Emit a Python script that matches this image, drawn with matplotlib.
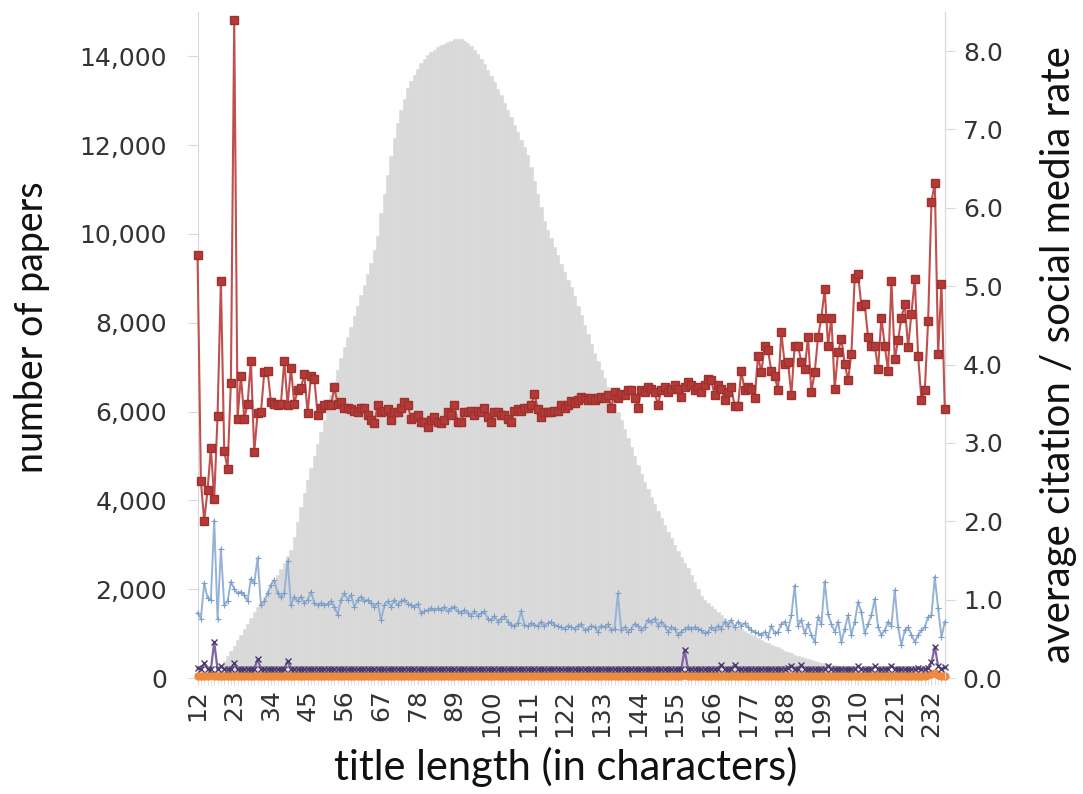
import matplotlib
matplotlib.use("Agg")
import matplotlib.pyplot as plt
from matplotlib.ticker import FuncFormatter, MultipleLocator
import numpy as np

plt.rcParams["font.family"] = ["DejaVu Sans"]

# title length categories 12..236
lengths = list(range(12, 237))

# number of papers per title length (left axis, grey bars)
papers = [
    10, 20, 40, 60, 100, 150, 200, 290, 380, 490,
    600, 720, 850, 970, 1100, 1220, 1350, 1480, 1600, 1700,
    1820, 1950, 2080, 2200, 2330, 2460, 2600, 2740, 2880, 3180,
    3520, 3850, 4170, 4450, 4720, 5000, 5280, 5550, 5800, 6100,
    6380, 6660, 6940, 7200, 7450, 7680, 7910, 8150, 8380, 8620,
    8850, 9100, 9350, 9650, 9950, 10470, 10900, 11330, 11760, 12150,
    12500, 12800, 13050, 13280, 13450, 13580, 13720, 13850, 13930, 14020,
    14100, 14150, 14200, 14250, 14280, 14320, 14350, 14380, 14400, 14380,
    14350, 14300, 14230, 14150, 14050, 13950, 13830, 13700, 13560, 13420,
    13270, 13120, 12960, 12800, 12630, 12460, 12290, 12120, 11950, 11780,
    11500, 11200, 10900, 10600, 10300, 10100, 9900, 9700, 9520, 9330,
    9150, 8970, 8800, 8600, 8380, 8170, 7950, 7740, 7530, 7320,
    7130, 6940, 6750, 6560, 6370, 6180, 5990, 5800, 5600, 5400,
    5200, 5000, 4800, 4600, 4420, 4250, 4080, 3920, 3760, 3600,
    3450, 3300, 3150, 3000, 2860, 2730, 2600, 2480, 2320, 2160,
    2000, 1850, 1760, 1690, 1620, 1550, 1480, 1420, 1360, 1300,
    1250, 1200, 1150, 1100, 1060, 1020, 980, 940, 900, 860,
    820, 790, 750, 720, 690, 660, 620, 590, 560, 520,
    500, 475, 450, 430, 410, 390, 370, 350, 335, 320,
    305, 290, 280, 265, 255, 245, 235, 225, 215, 205,
    195, 185, 178, 170, 163, 157, 150, 143, 137, 130,
    123, 117, 110, 105, 100, 95, 90, 85, 80, 77,
    73, 70, 65, 60, 55,
]

# average citation rate (right axis, red)
citations = [
    5.40, 2.52, 2.00, 2.40, 2.93, 2.29, 3.35, 5.07, 2.90, 2.67,
    3.77, 8.40, 3.31, 3.86, 3.31, 3.50, 4.05, 2.88, 3.38, 3.39,
    3.90, 3.92, 3.52, 3.50, 3.48, 3.50, 4.05, 3.48, 3.96, 3.50,
    3.67, 3.70, 3.88, 3.38, 3.86, 3.82, 3.36, 3.45, 3.48, 3.50,
    3.48, 3.71, 3.50, 3.52, 3.45, 3.45, 3.43, 3.41, 3.39, 3.45,
    3.45, 3.36, 3.29, 3.25, 3.48, 3.39, 3.41, 3.43, 3.29, 3.39,
    3.39, 3.45, 3.52, 3.48, 3.31, 3.33, 3.36, 3.27, 3.27, 3.20,
    3.29, 3.33, 3.27, 3.25, 3.29, 3.39, 3.36, 3.48, 3.27, 3.27,
    3.39, 3.39, 3.41, 3.36, 3.41, 3.39, 3.45, 3.33, 3.27, 3.39,
    3.39, 3.36, 3.36, 3.31, 3.27, 3.41, 3.43, 3.41, 3.45, 3.45,
    3.48, 3.63, 3.43, 3.33, 3.39, 3.39, 3.39, 3.41, 3.41, 3.48,
    3.45, 3.49, 3.53, 3.51, 3.55, 3.59, 3.57, 3.55, 3.57, 3.55,
    3.57, 3.59, 3.57, 3.61, 3.45, 3.65, 3.57, 3.63, 3.61, 3.67,
    3.67, 3.57, 3.45, 3.67, 3.65, 3.71, 3.69, 3.65, 3.49, 3.67,
    3.71, 3.65, 3.69, 3.74, 3.69, 3.59, 3.71, 3.78, 3.74, 3.67,
    3.71, 3.65, 3.74, 3.82, 3.80, 3.61, 3.74, 3.69, 3.55, 3.65,
    3.71, 3.47, 3.47, 3.92, 3.67, 3.71, 3.69, 3.57, 4.11, 3.90,
    4.24, 4.18, 3.92, 3.86, 3.67, 4.41, 4.01, 4.03, 3.61, 4.24,
    4.24, 4.03, 3.95, 4.35, 3.65, 3.90, 4.35, 4.60, 4.96, 4.24,
    4.60, 3.69, 4.16, 4.33, 4.01, 3.80, 4.14, 5.11, 5.15, 4.75,
    4.77, 4.35, 4.24, 4.24, 3.95, 4.60, 4.24, 3.92, 5.07, 4.07,
    4.31, 4.60, 4.77, 4.22, 4.65, 5.09, 4.11, 3.55, 3.67, 4.56,
    6.08, 6.32, 4.14, 5.03, 3.43,
]

# social media rate 1 (light blue)
social_a = [
    0.83, 0.76, 1.21, 1.02, 1.00, 2.01, 0.76, 1.65, 0.93, 0.98,
    1.23, 1.14, 1.08, 1.10, 1.06, 0.98, 1.27, 1.21, 1.53, 0.93,
    0.98, 1.08, 1.19, 1.25, 1.08, 1.04, 1.08, 1.50, 0.93, 1.04,
    0.98, 1.04, 0.96, 1.00, 1.10, 0.96, 0.93, 0.96, 0.93, 0.95,
    0.98, 0.91, 0.81, 1.00, 1.08, 1.00, 1.06, 0.91, 1.00, 1.04,
    0.98, 1.00, 0.96, 0.91, 0.96, 0.74, 0.93, 0.98, 0.91, 1.00,
    0.93, 0.98, 1.00, 0.95, 0.93, 0.91, 0.95, 0.83, 0.85, 0.87,
    0.89, 0.87, 0.89, 0.87, 0.91, 0.85, 0.89, 0.91, 0.85, 0.83,
    0.87, 0.83, 0.79, 0.85, 0.79, 0.83, 0.85, 0.76, 0.74, 0.79,
    0.72, 0.76, 0.79, 0.72, 0.68, 0.66, 0.70, 0.85, 0.68, 0.66,
    0.70, 0.68, 0.66, 0.72, 0.66, 0.70, 0.72, 0.68, 0.66, 0.65,
    0.63, 0.67, 0.65, 0.63, 0.67, 0.69, 0.61, 0.63, 0.67, 0.65,
    0.59, 0.67, 0.65, 0.69, 0.61, 0.63, 1.08, 0.61, 0.65, 0.59,
    0.63, 0.69, 0.67, 0.61, 0.65, 0.74, 0.72, 0.76, 0.67, 0.72,
    0.67, 0.59, 0.65, 0.63, 0.55, 0.59, 0.63, 0.65, 0.63, 0.65,
    0.63, 0.61, 0.57, 0.59, 0.65, 0.61, 0.67, 0.63, 0.72, 0.67,
    0.74, 0.65, 0.72, 0.67, 0.70, 0.65, 0.61, 0.59, 0.57, 0.55,
    0.59, 0.52, 0.67, 0.57, 0.59, 0.69, 0.72, 0.61, 0.80, 1.18,
    0.67, 0.74, 0.57, 0.69, 0.55, 0.46, 0.78, 0.69, 1.23, 0.82,
    0.69, 0.59, 0.72, 0.46, 0.63, 0.80, 0.55, 0.72, 0.97, 0.84,
    0.57, 0.69, 0.80, 1.01, 0.65, 0.55, 0.61, 0.72, 0.67, 1.12,
    0.65, 0.42, 0.61, 0.65, 0.55, 0.46, 0.55, 0.61, 0.65, 0.78,
    0.80, 1.29, 0.89, 0.52, 0.72,
]

# social media rate 2 (purple)
social_b = [
    0.13, 0.11, 0.19, 0.12, 0.11, 0.46, 0.11, 0.15, 0.12, 0.11,
    0.12, 0.19, 0.11, 0.12, 0.11, 0.12, 0.11, 0.12, 0.24, 0.12,
    0.11, 0.12, 0.11, 0.12, 0.11, 0.12, 0.12, 0.22, 0.12, 0.11,
    0.12, 0.11, 0.11, 0.12, 0.11, 0.11, 0.12, 0.11, 0.11, 0.12,
    0.11, 0.11, 0.12, 0.11, 0.11, 0.11, 0.12, 0.11, 0.11, 0.11,
    0.12, 0.11, 0.11, 0.11, 0.12, 0.11, 0.11, 0.11, 0.11, 0.12,
    0.11, 0.11, 0.11, 0.12, 0.11, 0.11, 0.11, 0.11, 0.12, 0.11,
    0.11, 0.11, 0.11, 0.11, 0.12, 0.11, 0.11, 0.11, 0.11, 0.11,
    0.12, 0.11, 0.11, 0.11, 0.11, 0.12, 0.11, 0.11, 0.11, 0.11,
    0.11, 0.12, 0.11, 0.11, 0.11, 0.11, 0.11, 0.12, 0.11, 0.11,
    0.11, 0.11, 0.11, 0.12, 0.11, 0.11, 0.11, 0.11, 0.12, 0.11,
    0.11, 0.11, 0.12, 0.11, 0.11, 0.11, 0.11, 0.12, 0.11, 0.11,
    0.11, 0.12, 0.11, 0.11, 0.12, 0.11, 0.11, 0.11, 0.12, 0.11,
    0.11, 0.12, 0.11, 0.11, 0.11, 0.12, 0.11, 0.11, 0.12, 0.11,
    0.11, 0.12, 0.11, 0.11, 0.12, 0.11, 0.36, 0.12, 0.11, 0.11,
    0.12, 0.11, 0.11, 0.12, 0.11, 0.11, 0.12, 0.17, 0.12, 0.11,
    0.12, 0.17, 0.12, 0.11, 0.12, 0.11, 0.12, 0.11, 0.12, 0.11,
    0.12, 0.11, 0.12, 0.11, 0.12, 0.11, 0.12, 0.13, 0.16, 0.12,
    0.12, 0.17, 0.12, 0.11, 0.12, 0.11, 0.12, 0.12, 0.11, 0.16,
    0.12, 0.11, 0.12, 0.11, 0.12, 0.11, 0.12, 0.12, 0.15, 0.12,
    0.11, 0.12, 0.12, 0.15, 0.12, 0.11, 0.12, 0.12, 0.16, 0.12,
    0.11, 0.12, 0.11, 0.12, 0.11, 0.12, 0.13, 0.12, 0.12, 0.13,
    0.20, 0.40, 0.15, 0.12, 0.14,
]

# social media rate 3 (orange)
social_c = [
    0.03, 0.03, 0.03, 0.03, 0.04, 0.03, 0.03, 0.03, 0.03, 0.03,
    0.03, 0.03, 0.03, 0.03, 0.03, 0.03, 0.03, 0.03, 0.03, 0.03,
    0.03, 0.03, 0.03, 0.03, 0.03, 0.03, 0.03, 0.03, 0.03, 0.03,
    0.03, 0.03, 0.03, 0.03, 0.03, 0.03, 0.03, 0.03, 0.03, 0.03,
    0.03, 0.03, 0.03, 0.03, 0.03, 0.03, 0.03, 0.03, 0.03, 0.03,
    0.03, 0.03, 0.03, 0.03, 0.03, 0.03, 0.03, 0.03, 0.03, 0.03,
    0.03, 0.03, 0.03, 0.03, 0.03, 0.03, 0.03, 0.03, 0.03, 0.03,
    0.03, 0.03, 0.03, 0.03, 0.03, 0.03, 0.03, 0.03, 0.03, 0.03,
    0.03, 0.03, 0.03, 0.03, 0.03, 0.03, 0.03, 0.03, 0.03, 0.03,
    0.03, 0.03, 0.03, 0.03, 0.03, 0.03, 0.03, 0.03, 0.03, 0.03,
    0.03, 0.03, 0.03, 0.03, 0.03, 0.03, 0.03, 0.03, 0.03, 0.03,
    0.03, 0.03, 0.03, 0.03, 0.03, 0.03, 0.03, 0.03, 0.03, 0.03,
    0.03, 0.03, 0.03, 0.03, 0.03, 0.03, 0.03, 0.03, 0.03, 0.03,
    0.03, 0.03, 0.03, 0.03, 0.03, 0.03, 0.03, 0.03, 0.03, 0.03,
    0.03, 0.03, 0.03, 0.03, 0.03, 0.03, 0.04, 0.03, 0.03, 0.03,
    0.03, 0.03, 0.03, 0.03, 0.03, 0.03, 0.03, 0.03, 0.03, 0.03,
    0.03, 0.03, 0.03, 0.03, 0.03, 0.03, 0.03, 0.03, 0.03, 0.03,
    0.03, 0.03, 0.03, 0.03, 0.03, 0.03, 0.03, 0.03, 0.03, 0.03,
    0.03, 0.03, 0.03, 0.03, 0.03, 0.03, 0.03, 0.03, 0.03, 0.03,
    0.03, 0.03, 0.03, 0.03, 0.03, 0.03, 0.03, 0.03, 0.03, 0.03,
    0.03, 0.03, 0.03, 0.03, 0.03, 0.03, 0.03, 0.03, 0.03, 0.03,
    0.03, 0.03, 0.03, 0.03, 0.03, 0.03, 0.03, 0.03, 0.03, 0.04,
    0.05, 0.07, 0.04, 0.03, 0.03,
]

xtick_vals = list(range(12, 237, 11))

label_color = "#333333"
spine_color = "#D9D9D9"
title_font = ["Lato", "DejaVu Sans"]

fig = plt.figure(figsize=(10.83, 7.94), dpi=100)
ax = fig.add_axes([0.1824, 0.146, 0.690, 0.839])

# grey histogram of paper counts
ax.bar(lengths, papers, width=1.0, color="#D9D9D9", edgecolor="#D9D9D9", linewidth=0.4, zorder=1)
ax.set_xlim(12, 236)
ax.set_ylim(0, 15000)
ax.set_yticks(range(0, 14001, 2000))
ax.yaxis.set_major_formatter(FuncFormatter(lambda v, p: f"{int(v):,}"))
ax.set_xticks(xtick_vals)
ax.xaxis.set_minor_locator(MultipleLocator(1))
ax.tick_params(axis="x", which="major", rotation=90, labelsize=18, colors=spine_color,
               labelcolor=label_color, length=5, pad=3)
ax.tick_params(axis="x", which="minor", colors=spine_color, length=5)
ax.tick_params(axis="y", labelsize=18, colors=spine_color, labelcolor=label_color, length=7, pad=15)
for s in ["top", "bottom"]:
    ax.spines[s].set_visible(False)
ax.spines["left"].set_color(spine_color)
ax.spines["right"].set_color(spine_color)
ax.set_xlabel("title length (in characters)", fontsize=30, family=title_font, color="#111111")
ax.xaxis.set_label_coords(0.493, -0.103)
ax.set_ylabel("number of papers", fontsize=27, family=title_font, color="#111111")
ax.yaxis.set_label_coords(-0.197, 0.527)

# rates on the secondary axis
ax2 = ax.twinx()
ax2.set_ylim(0, 8.5)
ax2.set_yticks(np.arange(0, 8.01, 1.0))
ax2.yaxis.set_major_formatter(FuncFormatter(lambda v, p: f"{v:.1f}"))
ax2.tick_params(axis="y", labelsize=18, colors=spine_color, labelcolor=label_color, length=7, pad=6)
for s in ["top", "bottom", "left"]:
    ax2.spines[s].set_visible(False)
ax2.spines["right"].set_color(spine_color)

ax2.plot(lengths, social_c, color="#F79646", lw=3.5, marker="o", ms=5,
         mfc="#EE8A3C", mec="#EE8A3C", zorder=2, clip_on=False)
ax2.plot(lengths, social_b, color="#8064A2", lw=1.6, marker="x", ms=5,
         mec="#4B3A6B", mew=1.0, zorder=3, clip_on=False)
ax2.plot(lengths, social_a, color="#95B3D7", lw=1.4, marker="+", ms=4,
         mec="#7E9EC8", mew=0.8, zorder=4, clip_on=False)
ax2.plot(lengths, citations, color="#C0504D", lw=1.5, marker="s", ms=5.5,
         mfc="#B23A37", mec="#A0302D", zorder=5, clip_on=False)
ax2.set_ylabel("average citation / social media rate", fontsize=29, family=title_font,
               color="#111111")
ax2.yaxis.set_label_coords(1.128, 0.485)

fig.savefig("out.png", dpi=100)
